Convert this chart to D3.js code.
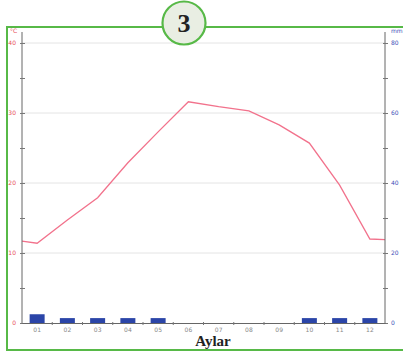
<!DOCTYPE html>
<html><head><meta charset="utf-8">
<script src="https://cdn.jsdelivr.net/npm/d3@7"></script>
<style>body{margin:0;background:#fff}svg{display:block}</style>
</head><body>
<svg id="c" width="403" height="354"></svg>
<script>
const months = ["01","02","03","04","05","06","07","08","09","10","11","12"];
const temperature = [11.4, 14.7, 17.9, 22.9, 27.3, 31.6, 30.9, 30.3, 28.3, 25.7, 19.7, 12.0];
const tempEdgeStart = 11.7;
const tempEdgeEnd = 11.9;
const precipitation = [2.5, 1.4, 1.4, 1.4, 1.4, 0, 0, 0, 0, 1.4, 1.4, 1.4];
const tempTicks = [0, 10, 20, 30, 40];
const precipTicks = [0, 20, 40, 60, 80];
const badgeText = "3";
const xTitle = "Aylar";

const svg = d3.select("#c");
const L = 22, R = 385, T = 43, B = 323;

const x = d3.scaleBand().domain(months).range([L, R]);
const xl = d3.scaleLinear().domain([0.5, 12.5]).range([L, R]);
const yT = d3.scaleLinear().domain([0, 40]).range([B, T]);
const yP = d3.scaleLinear().domain([0, 80]).range([B, T]);

// frame
svg.append("path").attr("d", `M403,27 H7 V350 H403`).attr("fill","none").attr("stroke","#57b947").attr("stroke-width",2);

// grid
svg.append("g").selectAll("line").data(tempTicks.filter(d=>d>0)).join("line")
  .attr("x1", L).attr("x2", R).attr("y1", d=>yT(d)).attr("y2", d=>yT(d))
  .attr("stroke","#e4e4e4").attr("stroke-width",1);

// bars
svg.append("g").selectAll("rect").data(precipitation.map((v,i)=>({m:months[i],v}))).join("rect")
  .attr("x", d=>x(d.m)+x.bandwidth()/2-7.5).attr("width",15)
  .attr("y", d=>yP(d.v)).attr("height", d=>B-yP(d.v))
  .attr("fill","#2b45a8");

// temperature line
const pts = [[0.5, tempEdgeStart], ...temperature.map((v,i)=>[i+1, v]), [12.5, tempEdgeEnd]];
svg.append("path").datum(pts)
  .attr("d", d3.line().x(d=>xl(d[0])).y(d=>yT(d[1])))
  .attr("fill","none").attr("stroke","#f2728c").attr("stroke-width",1.3);

// left axis
const gl = svg.append("g").attr("transform",`translate(${L},0)`);
gl.call(d3.axisLeft(yT).tickValues(d3.range(0,41,5)).tickSize(3).tickFormat(d=>d%10===0?d:""));
gl.select(".domain").attr("d",`M0,32 V${B}`).attr("stroke","#666");
gl.selectAll(".tick line").attr("stroke","#777").attr("x2",3).attr("x1",-2);
gl.selectAll(".tick text").style("fill","#e8505a").attr("font-size",6).attr("font-family","DejaVu Sans").attr("x",-6);
svg.append("text").attr("x",10).attr("y",33).style("fill","#e8505a").attr("font-size",6).attr("font-family","DejaVu Sans").text("°C");

// right axis
const gr = svg.append("g").attr("transform",`translate(${R},0)`);
gr.call(d3.axisRight(yP).tickValues(d3.range(0,81,10)).tickSize(3).tickFormat(d=>d%20===0?d:""));
gr.select(".domain").attr("d",`M0,32 V${B}`).attr("stroke","#666");
gr.selectAll(".tick line").attr("stroke","#777").attr("x1",-2).attr("x2",3);
gr.selectAll(".tick text").style("fill","#4050b8").attr("font-size",6).attr("font-family","DejaVu Sans").attr("x",6);
svg.append("text").attr("x",391).attr("y",33).style("fill","#4050b8").attr("font-size",6).attr("font-family","DejaVu Sans").text("mm");

// x axis
const gx = svg.append("g").attr("transform",`translate(0,${B})`);
gx.call(d3.axisBottom(x).tickSize(0).tickPadding(5));
gx.select(".domain").attr("stroke","#666");
gx.selectAll(".tick text").style("fill","#888").attr("font-size",6).attr("font-family","DejaVu Sans");
gx.append("g").selectAll("line").data(months.slice(1)).join("line")
  .attr("x1",d=>x(d)).attr("x2",d=>x(d)).attr("y1",-1).attr("y2",2).attr("stroke","#777");

svg.append("text").attr("x",213).attr("y",346).attr("text-anchor","middle")
  .attr("font-family","Liberation Serif").attr("font-weight","bold").attr("font-size",15).style("fill","#222").text(xTitle);

// badge
svg.append("circle").attr("cx",184).attr("cy",23).attr("r",21.5).attr("fill","#e9eee3").attr("stroke","#57b947").attr("stroke-width",2.2);
svg.append("text").attr("x",184).attr("y",32).attr("text-anchor","middle")
  .attr("font-family","Liberation Serif").attr("font-weight","bold").attr("font-size",26).style("fill","#222").text(badgeText);
</script>
</body></html>
